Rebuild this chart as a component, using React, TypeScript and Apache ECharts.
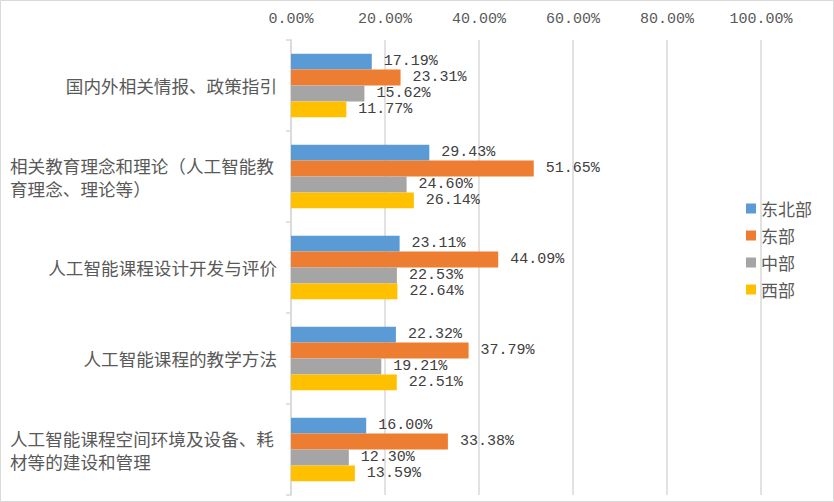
import React, { useEffect, useRef } from "react";
import * as echarts from "echarts";

const categories = [
  "国内外相关情报、政策指引",
  "相关教育理念和理论（人工智能教\n育理念、理论等）",
  "人工智能课程设计开发与评价",
  "人工智能课程的教学方法",
  "人工智能课程空间环境及设备、耗\n材等的建设和管理",
];
const seriesNames = ["东北部", "东部", "中部", "西部"];
const northeast = [17.19, 29.43, 23.11, 22.32, 16.0];
const east = [23.31, 51.65, 44.09, 37.79, 33.38];
const central = [15.62, 24.6, 22.53, 19.21, 12.3];
const west = [11.77, 26.14, 22.64, 22.51, 13.59];
const colors = ["#5B9BD5", "#ED7D31", "#A5A5A5", "#FFC000"];

const CAT_FONT = 17.6;
const NUM_FONT = "'Liberation Mono', monospace";
const CJK_FONT = "'Noto Sans CJK SC', sans-serif";

export default function App() {
  const ref = useRef<HTMLDivElement>(null);
  useEffect(() => {
    document.body.style.margin = "0";
    const chart = echarts.init(ref.current!, null, { renderer: "svg" });
    const values = [northeast, east, central, west];
    chart.setOption({
      animation: false,
      backgroundColor: "#ffffff",
      graphic: [
        {
          type: "rect",
          shape: { x: 0.5, y: 0.5, width: 833, height: 501 },
          style: { fill: "none", stroke: "#d9d9d9", lineWidth: 1 },
          silent: true,
        },
      ],
      grid: { left: 291, right: 73, top: 40, bottom: 7, containLabel: false },
      legend: {
        orient: "vertical",
        left: 741,
        top: 195,
        itemWidth: 10,
        itemHeight: 10,
        itemGap: 10,
        icon: "rect",
        data: seriesNames,
        textStyle: { color: "#595959", fontSize: 17, fontFamily: CJK_FONT },
      },
      xAxis: {
        type: "value",
        position: "top",
        min: 0,
        max: 100,
        interval: 20,
        axisLine: { show: false },
        axisTick: { show: false },
        splitLine: { lineStyle: { color: "#d9d9d9", width: 1.5 } },
        axisLabel: {
          color: "#595959",
          fontSize: 15,
          fontFamily: NUM_FONT,
          margin: 13,
          formatter: (v: number) => v.toFixed(2) + "%",
        },
      },
      yAxis: {
        type: "category",
        inverse: true,
        data: categories,
        axisLine: { show: true, lineStyle: { color: "#d9d9d9", width: 1.5 } },
        axisTick: { show: true, length: 5, lineStyle: { color: "#d9d9d9", width: 1.5 } },
        axisLabel: {
          color: "#595959",
          fontSize: CAT_FONT,
          fontFamily: CJK_FONT,
          margin: 14,
          lineHeight: 23,
          formatter: (v: string) => {
            if (v.indexOf("\n") < 0) return v;
            return v
              .split("\n")
              .map((s) => "{l|" + s + "}")
              .join("\n");
          },
          rich: {
            l: {
              width: 267,
              align: "left",
              color: "#595959",
              fontSize: CAT_FONT,
              fontFamily: CJK_FONT,
              lineHeight: 23,
            },
          },
        },
      },
      series: seriesNames.map((name, i) => ({
        name,
        type: "bar",
        data: values[i],
        barGap: "0%",
        barCategoryGap: "30%",
        itemStyle: { color: colors[i] },
        label: {
          show: true,
          position: "right",
          distance: 12,
          color: "#404040",
          fontSize: 15,
          fontFamily: NUM_FONT,
          formatter: (p: any) => p.value.toFixed(2) + "%",
        },
      })),
    });
    return () => chart.dispose();
  }, []);
  return <div ref={ref} style={{ width: 834, height: 502 }} />;
}
